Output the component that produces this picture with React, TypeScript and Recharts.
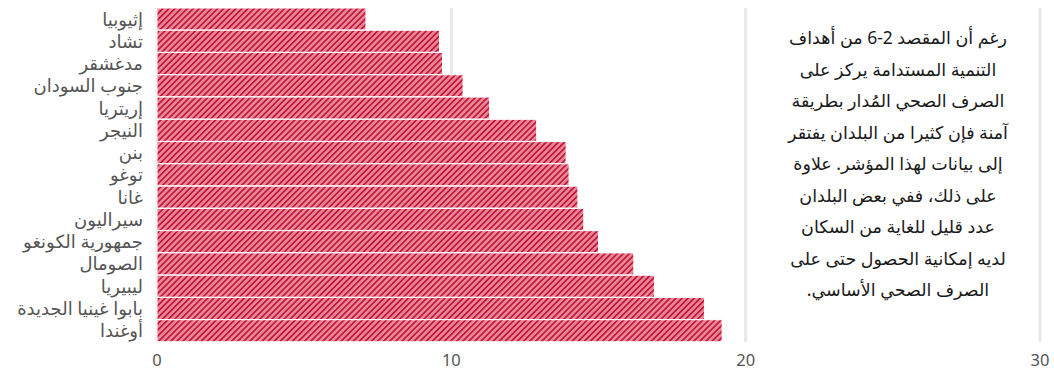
import { Bar, BarChart, CartesianGrid, XAxis, YAxis } from 'recharts'

const countries = [
  'إثيوبيا',
  'تشاد',
  'مدغشقر',
  'جنوب السودان',
  'إريتريا',
  'النيجر',
  'بنن',
  'توغو',
  'غانا',
  'سيراليون',
  'جمهورية الكونغو',
  'الصومال',
  'ليبيريا',
  'بابوا غينيا الجديدة',
  'أوغندا',
]

const values = [7.1, 9.6, 9.7, 10.4, 11.3, 12.9, 13.9, 14.0, 14.3, 14.5, 15.0, 16.2, 16.9, 18.6, 19.2]

const xTicks = [0, 10, 20, 30]

const noteLines = [
  'رغم أن المقصد 2-6 من أهداف',
  'التنمية المستدامة يركز على',
  'الصرف الصحي المُدار بطريقة',
  'آمنة فإن كثيرا من البلدان يفتقر',
  'إلى بيانات لهذا المؤشر. علاوة',
  'على ذلك، ففي بعض البلدان',
  'عدد قليل للغاية من السكان',
  'لديه إمكانية الحصول حتى على',
  'الصرف الصحي الأساسي.',
]

const font = '"Noto Sans", "DejaVu Sans", sans-serif'

export default function App() {
  const data = countries.map((name, i) => ({ name, value: values[i] }))

  return (
    <div style={{ position: 'absolute', left: 0, top: 0, width: 1054, height: 370, fontFamily: font }}>
      <BarChart
        layout="vertical"
        data={data}
        width={1054}
        height={370}
        margin={{ top: 8, right: 14, bottom: 0, left: 0 }}
        barCategoryGap={0}
      >
        <defs>
          <pattern id="stripes" width="4.3" height="4.3" patternUnits="userSpaceOnUse" patternTransform="rotate(45)">
            <rect width="4.3" height="4.3" fill="#e38a95" />
            <rect width="1.7" height="4.3" fill="#c9123f" />
          </pattern>
        </defs>
        <CartesianGrid horizontal={false} stroke="#e8e8e8" strokeWidth={3} />
        <XAxis
          type="number"
          domain={[0, 30]}
          ticks={xTicks}
          axisLine={false}
          tickLine={false}
          tickSize={0}
          tickMargin={12}
          height={28}
          tick={{ fill: '#555', fontSize: 16.5, fontFamily: font }}
        />
        <YAxis
          type="category"
          dataKey="name"
          width={157}
          axisLine={false}
          tickLine={false}
          tickSize={0}
          tickMargin={14}
          interval={0}
          tick={{ fill: '#555', fontSize: 18, fontFamily: font }}
        />
        <Bar dataKey="value" fill="url(#stripes)" stroke="#fff" strokeWidth={1} isAnimationActive={false} />
      </BarChart>
      <div
        dir="rtl"
        style={{
          position: 'absolute',
          left: 770,
          top: 22,
          width: 256,
          textAlign: 'center',
          fontSize: 17.5,
          lineHeight: '31.5px',
          color: '#1a1a1a',
        }}
      >
        {noteLines.map((line, i) => (
          <div key={i}>{line}</div>
        ))}
      </div>
    </div>
  )
}
